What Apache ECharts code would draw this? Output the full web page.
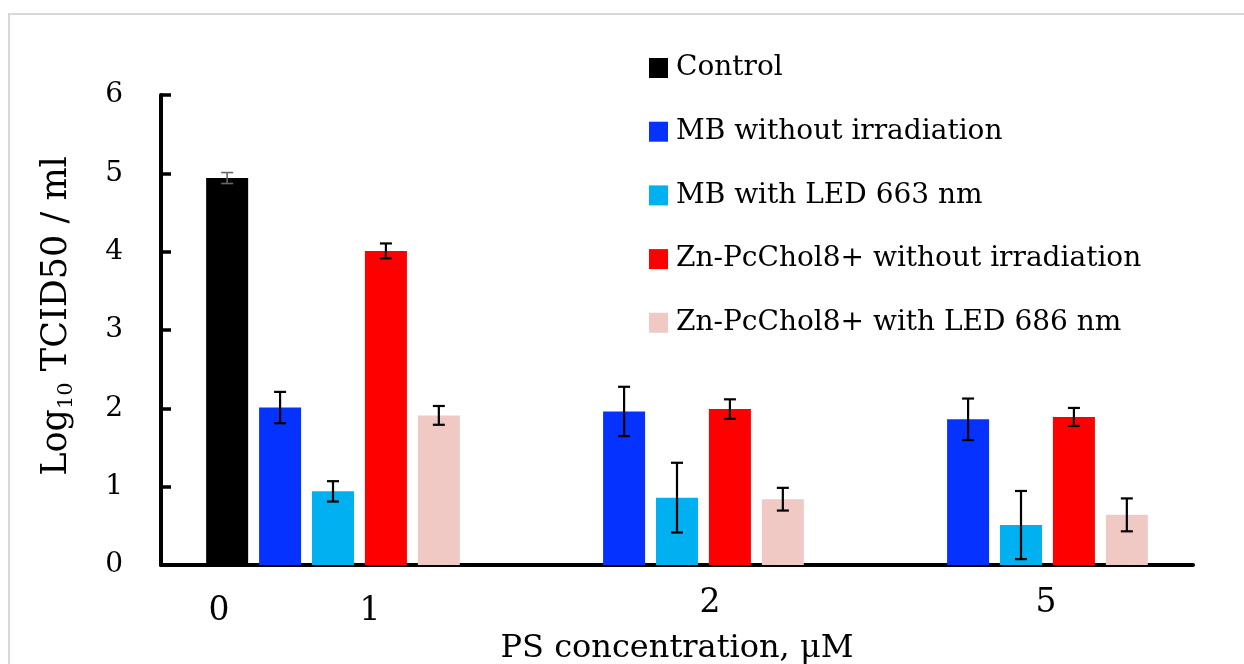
<!DOCTYPE html>
<html><head><meta charset="utf-8">
<script src="https://cdn.jsdelivr.net/npm/echarts@6/dist/echarts.min.js"></script>
<style>html,body{margin:0;padding:0;background:#fff}#c{width:1244px;height:664px}</style>
</head><body><div id="c"></div>
<script>
// ---- data ----
const categories = ['1', '2', '5'];
const controlTickLabel = '0';
const seriesNames = ['Control', 'MB without irradiation', 'MB with LED 663 nm', 'Zn-PcChol8+ without irradiation', 'Zn-PcChol8+ with LED 686 nm'];
const control     = [4.94, null, null];
const controlErr  = [0.07, null, null];
const mbDark      = [2.01, 1.96, 1.86];
const mbDarkErr   = [0.20, 0.315, 0.265];
const mbLed       = [0.94, 0.86, 0.51];
const mbLedErr    = [0.13, 0.445, 0.435];
const znDark      = [4.01, 1.99, 1.89];
const znDarkErr   = [0.095, 0.125, 0.115];
const znLed       = [1.91, 0.84, 0.64];
const znLedErr    = [0.12, 0.145, 0.21];
const yTicks = [0, 1, 2, 3, 4, 5, 6];

// ---- styling ----
const FONT = 'DejaVu Serif';
const colors = ['#000000', '#0532FF', '#00B0F0', '#FF0000', '#F0C9C5'];
const BAR_W = 42, BAR_GAP = 0.26;
const values = [control, mbDark, mbLed, znDark, znLed];
const errs = [controlErr, mbDarkErr, mbLedErr, znDarkErr, znLedErr];

const errData = [];
values.forEach((arr, si) => arr.forEach((v, ci) => {
  if (v != null && errs[si][ci] != null) errData.push([ci, v - errs[si][ci], v + errs[si][ci], si]);
}));

function renderErr(params, api) {
  const ci = api.value(0), lo = api.value(1), hi = api.value(2), si = api.value(3);
  const n = values.length;
  const step = BAR_W * (1 + BAR_GAP);
  const off = (si - (n - 1) / 2) * step;
  const pHi = api.coord([ci, hi]), pLo = api.coord([ci, lo]);
  const x = pHi[0] + off, cap = 6;
  const isCtrl = si === 0;
  const style = { stroke: isCtrl ? '#666666' : '#000000', lineWidth: isCtrl ? 1.6 : 2.2, fill: null };
  return { type: 'group', children: [
    { type: 'line', shape: { x1: x, y1: pHi[1], x2: x, y2: pLo[1] }, style },
    { type: 'line', shape: { x1: x - cap, y1: pHi[1], x2: x + cap, y2: pHi[1] }, style },
    { type: 'line', shape: { x1: x - cap, y1: pLo[1], x2: x + cap, y2: pLo[1] }, style }
  ]};
}

const series = values.map((arr, i) => ({
  name: seriesNames[i], type: 'bar', data: arr, barWidth: BAR_W, barGap: (BAR_GAP * 100) + '%',
  itemStyle: { color: colors[i] }, emphasis: { disabled: true }
}));
series.push({ type: 'custom', renderItem: renderErr, data: errData, encode: { x: 0, y: [1, 2] }, z: 10, silent: true });

const chart = echarts.init(document.getElementById('c'), null, { renderer: 'canvas' });
chart.setOption({
  animation: false,
  backgroundColor: '#ffffff',
  graphic: [{ type: 'rect', shape: { x: 9, y: 14, width: 1300, height: 700 }, style: { fill: null, stroke: '#d9d9d9', lineWidth: 2 }, silent: true }],
  grid: { left: 161, right: 51, top: 95, bottom: 99, containLabel: false, outerBoundsMode: 'none' },
  legend: {
    data: seriesNames, orient: 'vertical', left: 644, top: 48,
    itemWidth: 19, itemHeight: 20, itemGap: 33.7, icon: 'rect',
    textStyle: { fontFamily: FONT, fontSize: 28, color: '#000', lineHeight: 30, padding: [0, 0, 0, 3] }
  },
  xAxis: {
    type: 'category', data: categories,
    axisLine: { show: true, lineStyle: { color: '#000', width: 4 } },
    axisTick: { show: false },
    axisLabel: {
      margin: 22, interval: 0, color: '#000', fontFamily: FONT, fontSize: 33,
      formatter: (v, i) => {
        if (i === 0) return '{z|' + controlTickLabel + '}{g| }{z|' + v + '}{r| }';
        return '{p' + i + '|' + v + '}';
      },
      rich: {
        z: { width: 20, align: 'center', fontFamily: FONT, fontSize: 33, padding: [8, 0, 0, 0] },
        g: { width: 131 }, r: { width: 77 },
        p1: { fontFamily: FONT, fontSize: 33, padding: [0, 0, 0, 66] },
        p2: { fontFamily: FONT, fontSize: 33, padding: [0, 0, 0, 50] }
      }
    },
    name: 'PS concentration, μM', nameLocation: 'middle', nameGap: 61,
    nameTextStyle: { fontFamily: FONT, fontSize: 32, color: '#000' }
  },
  yAxis: {
    type: 'value', min: yTicks[0], max: yTicks[yTicks.length - 1], interval: 1,
    splitLine: { show: false },
    axisLine: { show: true, lineStyle: { color: '#000', width: 4 } },
    axisTick: { show: true, inside: true, length: 10, lineStyle: { color: '#000', width: 3.5 } },
    axisLabel: { margin: 38, color: '#000', fontFamily: FONT, fontSize: 28, padding: [6, 0, 0, 0] },
    name: '{a|Log}{s|10}{a| TCID50 / ml}', nameLocation: 'middle', nameRotate: 90, nameGap: 84,
    nameTextStyle: {
      color: '#000', padding: [0, 0, 0, 28],
      rich: {
        a: { fontFamily: FONT, fontSize: 35, lineHeight: 40, verticalAlign: 'middle', color: '#000' },
        s: { fontFamily: FONT, fontSize: 21, lineHeight: 40, verticalAlign: 'bottom', color: '#000' }
      }
    }
  },
  series
});
</script></body></html>
